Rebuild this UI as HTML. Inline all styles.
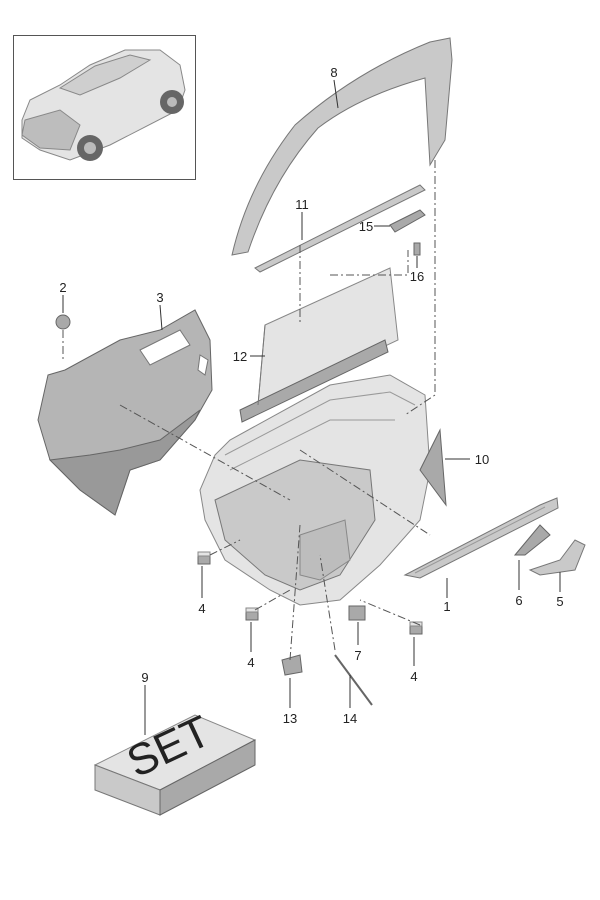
<!DOCTYPE html>
<html><head><meta charset="utf-8"><style>
html,body{margin:0;padding:0;background:#fff;}
svg{display:block;font-family:"Liberation Sans",sans-serif;}
.p{fill:#c9c9c9;stroke:#777;stroke-width:1;}
.d{fill:#a9a9a9;stroke:#666;stroke-width:1;}
.l{fill:#e4e4e4;stroke:#888;stroke-width:1;}
.dd{fill:none;stroke:#555;stroke-width:1;stroke-dasharray:8 3 2 3;}
.ln{stroke:#333;stroke-width:1;}
text{font-size:13px;fill:#222;text-anchor:middle;}
</style></head><body>
<svg width="600" height="900" viewBox="0 0 600 900">
<!-- car thumbnail -->
<rect x="13.5" y="35.5" width="182" height="144" fill="#fff" stroke="#555"/>
<path class="l" d="M22 120 L30 100 L60 85 L90 65 L125 50 L160 50 L180 65 L185 90 L178 110 L110 145 L70 160 L40 150 L22 138 Z"/>
<path fill="#cfcfcf" stroke="#888" d="M60 88 L95 66 L130 55 L150 60 L120 78 L80 95 Z"/>
<path fill="#bdbdbd" stroke="#888" d="M25 120 L60 110 L80 125 L70 150 L40 148 L22 135 Z"/>
<circle cx="90" cy="148" r="13" fill="#666"/><circle cx="90" cy="148" r="6" fill="#bbb"/>
<circle cx="172" cy="102" r="12" fill="#666"/><circle cx="172" cy="102" r="5" fill="#bbb"/>
<!-- 8 pillar trim -->
<path class="p" d="M232 255 Q248 185 295 125 Q355 72 430 42 L450 38 L452 60 L445 140 L430 165 L425 78 Q360 96 318 128 Q272 180 248 252 Z"/>
<line class="ln" x1="334" y1="80" x2="338" y2="108"/><text x="334" y="77">8</text>
<!-- 11 -->
<path class="p" d="M255 268 L420 185 L425 190 L260 272 Z"/>
<line class="ln" x1="302" y1="212" x2="302" y2="240"/><text x="302" y="209">11</text>
<!-- 15,16 -->
<path class="d" d="M390 225 L420 210 L425 215 L395 232 Z"/>
<line class="ln" x1="374" y1="226" x2="390" y2="226"/><text x="366" y="231">15</text>
<path class="d" d="M414 243 h6 v12 h-6 z"/>
<line class="ln" x1="417" y1="256" x2="417" y2="268"/><text x="417" y="281">16</text>
<!-- 12 sunblind -->
<path class="l" d="M265 325 L390 268 L398 340 L258 405 Z" fill="#dadada"/>
<path class="d" d="M240 410 L385 340 L388 352 L242 422 Z"/>
<line x1="265" y1="325" x2="258" y2="405" stroke="#777"/>
<line class="ln" x1="250" y1="356" x2="265" y2="356"/><text x="240" y="361">12</text>
<!-- 2 -->
<circle class="d" cx="63" cy="322" r="7"/>
<line class="ln" x1="63" y1="295" x2="63" y2="313"/><text x="63" y="292">2</text>
<!-- 3 insulation -->
<path fill="#b5b5b5" stroke="#666" d="M48 375 L65 370 L120 340 L160 330 L195 310 L210 340 L212 390 L195 420 L160 460 L130 470 L115 515 L80 490 L50 460 L38 420 Z"/>
<path fill="#999" stroke="#666" d="M50 460 L80 490 L115 515 L130 470 L160 460 L195 420 L200 410 L160 440 L120 450 L90 455 Z"/>
<path fill="#fff" stroke="#777" d="M140 350 L180 330 L190 345 L150 365 Z"/>
<path fill="#fff" stroke="#777" d="M200 355 L208 360 L205 375 L198 370 Z"/>
<line class="ln" x1="160" y1="305" x2="162" y2="330"/><text x="160" y="302">3</text>
<!-- door panel -->
<path class="l" d="M215 455 L230 440 L330 385 L390 375 L425 395 L430 470 L420 520 L380 565 L340 600 L300 605 L270 590 L225 560 L205 520 L200 490 Z"/>
<path fill="none" stroke="#999" d="M225 455 L330 400 L390 392 L415 405 M230 470 L330 420 L395 420"/>
<path class="p" d="M215 500 L300 460 L370 470 L375 520 L340 575 L300 590 L265 575 L225 540 Z"/>
<path fill="#bdbdbd" stroke="#888" d="M300 535 L345 520 L350 560 L320 580 L300 575 Z"/>
<!-- 10 -->
<path class="d" d="M420 470 L440 430 L446 505 Z"/>
<line class="ln" x1="445" y1="459" x2="470" y2="459"/><text x="482" y="464">10</text>
<!-- 1 armrest -->
<path class="p" d="M405 575 L540 505 L557 498 L558 508 L420 578 Z"/>
<path fill="none" stroke="#999" d="M415 573 L545 507"/>
<line class="ln" x1="447" y1="578" x2="447" y2="598"/><text x="447" y="611">1</text>
<!-- 6 -->
<path class="d" d="M515 555 L540 525 L550 535 L525 555 Z"/>
<line class="ln" x1="519" y1="560" x2="519" y2="590"/><text x="519" y="605">6</text>
<!-- 5 -->
<path class="p" d="M530 570 L560 560 L575 540 L585 545 L575 570 L540 575 Z"/>
<line class="ln" x1="560" y1="572" x2="560" y2="592"/><text x="560" y="606">5</text>
<!-- clips 4 -->
<rect class="d" x="198" y="552" width="12" height="12"/><rect class="l" x="198" y="552" width="12" height="4"/><line class="ln" x1="202" y1="566" x2="202" y2="598"/><text x="202" y="613">4</text>
<rect class="d" x="246" y="608" width="12" height="12"/><rect class="l" x="246" y="608" width="12" height="4"/><line class="ln" x1="251" y1="622" x2="251" y2="652"/><text x="251" y="667">4</text>
<rect class="d" x="410" y="622" width="12" height="12"/><rect class="l" x="410" y="622" width="12" height="4"/><line class="ln" x1="414" y1="637" x2="414" y2="666"/><text x="414" y="681">4</text>
<!-- 7 -->
<rect class="d" x="349" y="606" width="16" height="14"/><line class="ln" x1="358" y1="622" x2="358" y2="645"/><text x="358" y="660">7</text>
<!-- 13 -->
<path class="d" d="M282 660 L300 655 L302 672 L285 675 Z"/><line class="ln" x1="290" y1="678" x2="290" y2="708"/><text x="290" y="723">13</text>
<!-- 14 rod -->
<line x1="335" y1="655" x2="372" y2="705" stroke="#666" stroke-width="2"/>
<line class="ln" x1="350" y1="675" x2="350" y2="708"/><text x="350" y="723">14</text>
<!-- dash-dot lines -->
<path class="dd" d="M435 160 V395 L405 415"/>
<path class="dd" d="M300 245 V325"/>
<path class="dd" d="M330 275 L408 275 V250"/>
<path class="dd" d="M63 330 V360"/>
<path class="dd" d="M120 405 L290 500"/>
<path class="dd" d="M300 450 L430 535"/>
<path class="dd" d="M210 555 L240 540"/>
<path class="dd" d="M255 610 L290 590"/>
<path class="dd" d="M420 625 L360 600"/>
<path class="dd" d="M290 660 L300 525"/>
<path class="dd" d="M335 650 L320 555"/>
<!-- 9 SET box -->
<path class="l" d="M95 765 L195 715 L255 740 L160 790 Z"/>
<path class="p" d="M95 765 L160 790 L160 815 L95 790 Z"/>
<path class="d" d="M160 790 L255 740 L255 765 L160 815 Z"/>
<text x="175" y="760" style="font-size:44px;" transform="rotate(-25 175 760)">SET</text>
<line class="ln" x1="145" y1="685" x2="145" y2="735"/><text x="145" y="682">9</text>
</svg>
</body></html>
